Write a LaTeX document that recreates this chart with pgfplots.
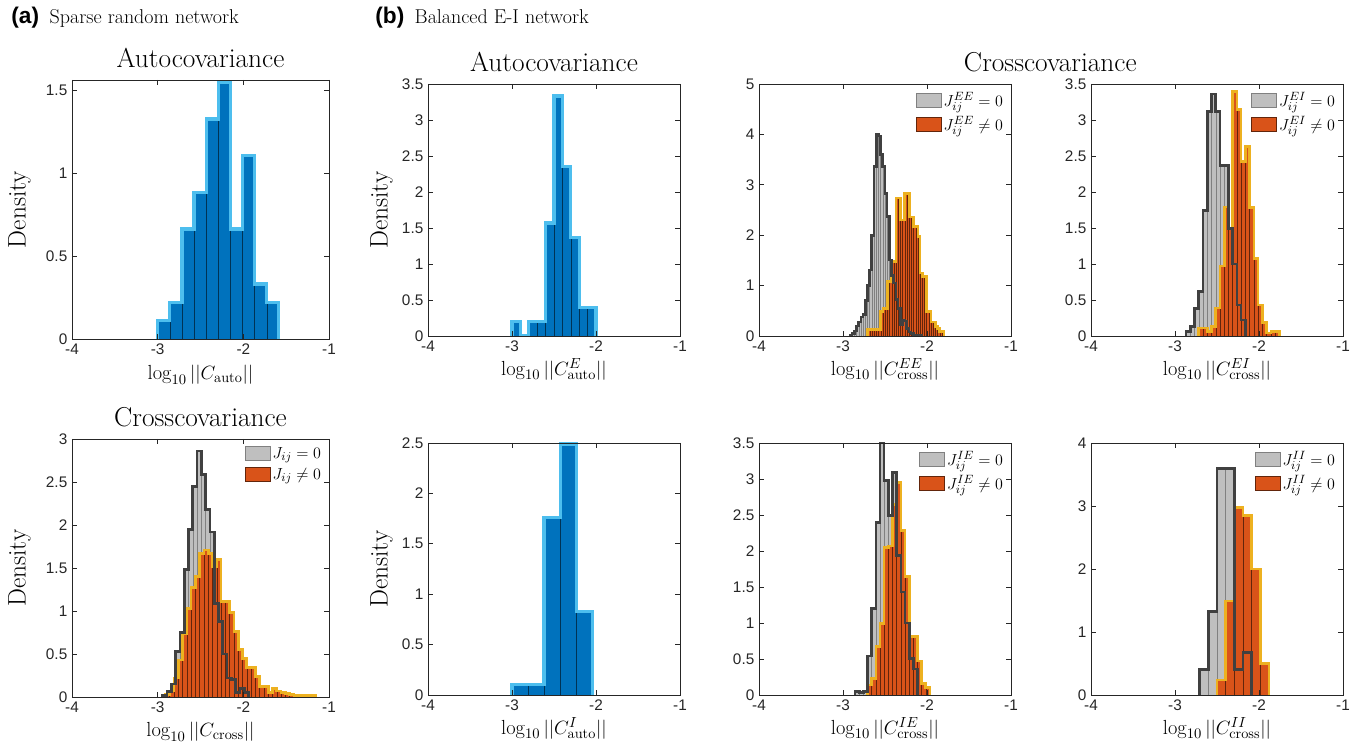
\documentclass[border=0pt]{standalone}
\usepackage{fontspec}
\usepackage{pgfplots}
\usepackage{pgfplotstable}
\pgfplotsset{compat=1.18}
\newfontfamily\tickfont{Liberation Sans}
\definecolor{hBlue}{RGB}{0,114,189}
\definecolor{hBlueEdge}{RGB}{77,190,238}
\definecolor{hGray}{RGB}{191,191,191}
\definecolor{hGrayEdge}{RGB}{64,64,64}
\definecolor{hRed}{RGB}{217,83,25}
\definecolor{hRedEdge}{RGB}{237,177,32}
\definecolor{axisGray}{RGB}{38,38,38}

% histogram tables: first row = left edge at zero (outline start), last row = right edge
\pgfplotstableread{
x y
-3.000 0
-3.000 0.110
-2.859 0.221
-2.717 0.662
-2.576 0.883
-2.434 1.325
-2.293 1.546
-2.151 0.662
-2.010 1.104
-1.868 0.331
-1.727 0.221
-1.585 0
}\tabAauto
\pgfplotstableread{
x y
-2.94 0
-2.94 0.02
-2.89 0.06
-2.84 0.15
-2.79 0.53
-2.74 0.75
-2.69 1.48
-2.64 1.95
-2.59 2.45
-2.54 2.86
-2.49 2.59
-2.44 2.18
-2.39 1.92
-2.34 1.09
-2.29 0.88
-2.24 0.50
-2.19 0.22
-2.14 0.20
-2.09 0.05
-2.04 0.10
-1.99 0.05
-1.94 0
}\tabAgray
\pgfplotstableread{
x y
-2.91 0
-2.91 0.03
-2.86 0.07
-2.81 0.22
-2.76 0.43
-2.71 0.74
-2.66 1.03
-2.61 1.27
-2.56 1.40
-2.51 1.67
-2.46 1.71
-2.41 1.67
-2.36 1.52
-2.31 1.60
-2.26 1.11
-2.21 1.11
-2.16 0.98
-2.11 0.76
-2.06 0.55
-2.01 0.45
-1.96 0.34
-1.91 0.34
-1.86 0.24
-1.81 0.12
-1.76 0.12
-1.71 0.05
-1.66 0.10
-1.61 0.07
-1.56 0.05
-1.51 0.04
-1.46 0.03
-1.41 0.02
-1.36 0.02
-1.31 0.02
-1.26 0.02
-1.21 0.02
-1.16 0
}\tabAred
\pgfplotstableread{
x y
-3.0 0
-3.0 0.196
-2.9 0
-2.8 0.196
-2.7 0.196
-2.6 1.569
-2.5 3.333
-2.4 2.353
-2.3 1.373
-2.2 0.392
-2.1 0.392
-2.0 0
}\tabBE
\pgfplotstableread{
x y
-3.000 0
-3.000 0.103
-2.809 0.103
-2.618 1.76
-2.427 2.49
-2.236 0.83
-2.045 0
}\tabBI
\pgfplotstableread{
x y
-2.917 0
-2.917 0.02
-2.891 0.05
-2.865 0.10
-2.839 0.20
-2.813 0.28
-2.787 0.38
-2.761 0.42
-2.735 0.70
-2.709 1.00
-2.683 1.31
-2.657 2.00
-2.631 3.36
-2.605 4.00
-2.579 3.97
-2.553 3.60
-2.527 3.36
-2.501 2.83
-2.475 2.37
-2.449 1.51
-2.423 1.20
-2.397 1.05
-2.371 0.72
-2.345 0.55
-2.319 0.22
-2.293 0.32
-2.267 0.30
-2.241 0.15
-2.215 0.08
-2.189 0.05
-2.163 0.02
-2.137 0.02
-2.111 0.01
-2.085 0.01
-2.059 0
}\tabEEgray
\pgfplotstableread{
x y
-2.706 0
-2.706 0.13
-2.680 0.13
-2.654 0.13
-2.628 0.13
-2.602 0.13
-2.576 0.13
-2.550 0.48
-2.524 0.55
-2.498 0.55
-2.472 1.08
-2.446 1.08
-2.420 1.48
-2.394 1.48
-2.368 2.74
-2.342 2.74
-2.316 2.30
-2.290 2.30
-2.264 2.83
-2.238 2.83
-2.212 2.36
-2.186 2.36
-2.160 2.17
-2.134 2.17
-2.108 1.97
-2.082 1.25
-2.056 1.18
-2.030 1.18
-2.004 0.48
-1.978 0.48
-1.952 0.28
-1.926 0.28
-1.900 0.19
-1.874 0.15
-1.848 0.09
-1.822 0.09
-1.796 0
}\tabEEred
\pgfplotstableread{
x y
-2.857 0
-2.857 0.05
-2.807 0.03
-2.758 0.05
-2.708 0.54
-2.659 1.20
-2.609 2.40
-2.559 3.50
-2.510 2.98
-2.460 2.49
-2.411 3.09
-2.361 1.94
-2.311 1.43
-2.262 1.00
-2.212 0.51
-2.163 0.36
-2.113 0
}\tabIEgray
\pgfplotstableread{
x y
-2.708 0
-2.708 0.14
-2.659 0.23
-2.609 0.67
-2.559 0.99
-2.510 2.05
-2.460 2.07
-2.411 2.65
-2.361 2.95
-2.311 2.28
-2.262 1.65
-2.212 0.81
-2.163 0.81
-2.113 0.47
-2.064 0.16
-2.014 0.10
-1.964 0
}\tabIEred
\pgfplotstableread{
x y
-2.869 0
-2.869 0.06
-2.8185 0.13
-2.768 0.38
-2.7175 0.62
-2.667 1.74
-2.6165 3.12
-2.566 3.36
-2.5155 3.12
-2.465 2.37
-2.4145 2.37
-2.364 1.49
-2.3135 1.00
-2.263 0.43
-2.2125 0.22
-2.162 0
}\tabEIgray
\pgfplotstableread{
x y
-2.7175 0
-2.7175 0.11
-2.667 0.11
-2.6165 0.06
-2.566 0.13
-2.5155 0.39
-2.465 0.97
-2.4145 1.79
-2.364 1.50
-2.3135 3.40
-2.263 3.15
-2.2125 2.42
-2.162 2.63
-2.1115 1.78
-2.061 1.08
-2.0105 0.43
-1.960 0.19
-1.9095 0.04
-1.859 0.06
-1.8085 0.06
-1.758 0
}\tabEIred
\pgfplotstableread{
x y
-2.709 0
-2.709 0.40
-2.605 1.33
-2.502 3.60
-2.398 3.60
-2.295 0.40
-2.191 0.67
-2.088 0
}\tabIIgray
\pgfplotstableread{
x y
-2.502 0
-2.502 0.24
-2.398 1.49
-2.295 2.98
-2.191 2.85
-2.088 2.00
-1.984 0.50
-1.881 0
}\tabIIred

\pgfplotsset{
  panel/.style={
    scale only axis, anchor=south west,
    xmin=-4, xmax=-1, ymin=0,
    xtick={-4,-3,-2,-1}, xticklabels={-4,-3,-2,-1},
    tick align=inside, major tick length=3.5pt,
    axis on top,
    axis line style={draw=axisGray, line width=0.55pt},
    every tick/.style={draw=axisGray, line width=0.55pt},
    tick label style={font=\tickfont\fontsize{11.5}{13}\selectfont, text=axisGray},
    /pgf/number format/assume math mode=true,
    xlabel style={at={(axis description cs:0.5,-0.155)}, anchor=base, font=\fontsize{15.3}{18}\selectfont},
    ylabel style={at={(axis description cs:-0.18,0.5)}, anchor=base, font=\fontsize{19}{22}\selectfont},
    every axis title shift=0pt,
    title style={at={(axis description cs:0.5,1)}, anchor=base, yshift=9pt, font=\fontsize{20.5}{24}\selectfont},
    legend style={at={(0.985,0.985)}, anchor=north east, draw=none, fill=none,
      font=\fontsize{13}{15}\selectfont, inner sep=1pt, row sep=2pt, cells={anchor=west}},
  },
  bars/.style={ybar interval, line width=0.3pt, skip coords between index={0}{1},
    legend image code/.code={\draw[##1] (0pt,-5.25pt) rectangle (18.75pt,5.25pt);}},
  outline/.style={const plot, no marks, line width=2pt, forget plot},
  grayBars/.style={bars, fill=hGray, draw=black!50},
  redBars/.style={bars, fill=hRed, draw=hRed!45!black},
  blueBars/.style={bars, fill=hBlue, draw=hBlue!45!black},
}

\begin{document}
\begin{tikzpicture}
\path[use as bounding box] (0,0) rectangle (1023.75pt,561pt);

\node[anchor=base west, font=\tickfont\bfseries\fontsize{17}{20}\selectfont] at (5pt,543pt) {(a)};
\node[anchor=base west, font=\fontsize{15}{18}\selectfont] at (33.75pt,543pt) {Sparse random network};
\node[anchor=base west, font=\tickfont\bfseries\fontsize{17}{20}\selectfont] at (278pt,543pt) {(b)};
\node[anchor=base west, font=\fontsize{15}{18}\selectfont] at (307.5pt,543pt) {Balanced E-I network};

% (a) top: autocovariance
\begin{axis}[panel, at={(54pt,306.75pt)}, width=192.75pt, height=194.25pt,
  ymax=1.56, ytick={0,0.5,1,1.5},
  title={Autocovariance}, ylabel={Density}, xlabel={$\log_{10}||C_{\mathrm{auto}}||$}]
\addplot[blueBars] table {\tabAauto};
\addplot[outline, draw=hBlueEdge, line width=2.4pt] table {\tabAauto};
\end{axis}

% (a) bottom: crosscovariance
\begin{axis}[panel, at={(54pt,38.25pt)}, width=192.75pt, height=193.5pt,
  ymax=3, ytick={0,0.5,1,1.5,2,2.5,3},
  title={Crosscovariance}, ylabel={Density}, xlabel={$\log_{10}||C_{\mathrm{cross}}||$}]
\addplot[grayBars] table {\tabAgray};
\addplot[redBars] table {\tabAred};
\addplot[outline, draw=hRedEdge] table {\tabAred};
\addplot[outline, draw=hGrayEdge] table {\tabAgray};
\legend{$J_{ij}=0$,$J_{ij}\neq 0$}
\end{axis}

% (b) autocovariance E
\begin{axis}[panel, at={(321pt,309pt)}, width=189pt, height=189pt,
  ymax=3.5, ytick={0,0.5,1,1.5,2,2.5,3,3.5},
  ylabel style={at={(axis description cs:-0.16,0.5)}},
  title={Autocovariance}, ylabel={Density}, xlabel={$\log_{10}||C^{E}_{\mathrm{auto}}||$}]
\addplot[blueBars] table {\tabBE};
\addplot[outline, draw=hBlueEdge, line width=2.4pt] table {\tabBE};
\end{axis}

% (b) autocovariance I
\begin{axis}[panel, at={(321pt,39.75pt)}, width=189pt, height=189pt,
  ymax=2.5, ytick={0,0.5,1,1.5,2,2.5},
  ylabel style={at={(axis description cs:-0.16,0.5)}},
  ylabel={Density}, xlabel={$\log_{10}||C^{I}_{\mathrm{auto}}||$}]
\addplot[blueBars] table {\tabBI};
\addplot[outline, draw=hBlueEdge, line width=2.4pt] table {\tabBI};
\end{axis}

% (b) EE
\begin{axis}[panel, at={(569.25pt,309pt)}, width=189pt, height=189pt,
  ymax=5, ytick={0,1,2,3,4,5},
  title={Crosscovariance}, title style={at={(axis description cs:1.156,1)}},
  xlabel={$\log_{10}||C^{EE}_{\mathrm{cross}}||$}]
\addplot[grayBars] table {\tabEEgray};
\addplot[redBars] table {\tabEEred};
\addplot[outline, draw=hRedEdge] table {\tabEEred};
\addplot[outline, draw=hGrayEdge] table {\tabEEgray};
\legend{$J^{EE}_{ij}=0$,$J^{EE}_{ij}\neq 0$}
\end{axis}

% (b) IE
\begin{axis}[panel, at={(569.25pt,39.75pt)}, width=189pt, height=189pt,
  ymax=3.5, ytick={0,0.5,1,1.5,2,2.5,3,3.5},
  xlabel={$\log_{10}||C^{IE}_{\mathrm{cross}}||$}]
\addplot[grayBars] table {\tabIEgray};
\addplot[redBars] table {\tabIEred};
\addplot[outline, draw=hRedEdge] table {\tabIEred};
\addplot[outline, draw=hGrayEdge] table {\tabIEgray};
\legend{$J^{IE}_{ij}=0$,$J^{IE}_{ij}\neq 0$}
\end{axis}

% (b) EI
\begin{axis}[panel, at={(818.25pt,309pt)}, width=189pt, height=189pt,
  ymax=3.5, ytick={0,0.5,1,1.5,2,2.5,3,3.5},
  xlabel={$\log_{10}||C^{EI}_{\mathrm{cross}}||$}]
\addplot[grayBars] table {\tabEIgray};
\addplot[redBars] table {\tabEIred};
\addplot[outline, draw=hRedEdge] table {\tabEIred};
\addplot[outline, draw=hGrayEdge] table {\tabEIgray};
\legend{$J^{EI}_{ij}=0$,$J^{EI}_{ij}\neq 0$}
\end{axis}

% (b) II
\begin{axis}[panel, at={(818.25pt,39.75pt)}, width=189pt, height=189pt,
  ymax=4, ytick={0,1,2,3,4},
  xlabel={$\log_{10}||C^{II}_{\mathrm{cross}}||$}]
\addplot[grayBars] table {\tabIIgray};
\addplot[redBars] table {\tabIIred};
\addplot[outline, draw=hRedEdge] table {\tabIIred};
\addplot[outline, draw=hGrayEdge] table {\tabIIgray};
\legend{$J^{II}_{ij}=0$,$J^{II}_{ij}\neq 0$}
\end{axis}
\end{tikzpicture}
\end{document}
